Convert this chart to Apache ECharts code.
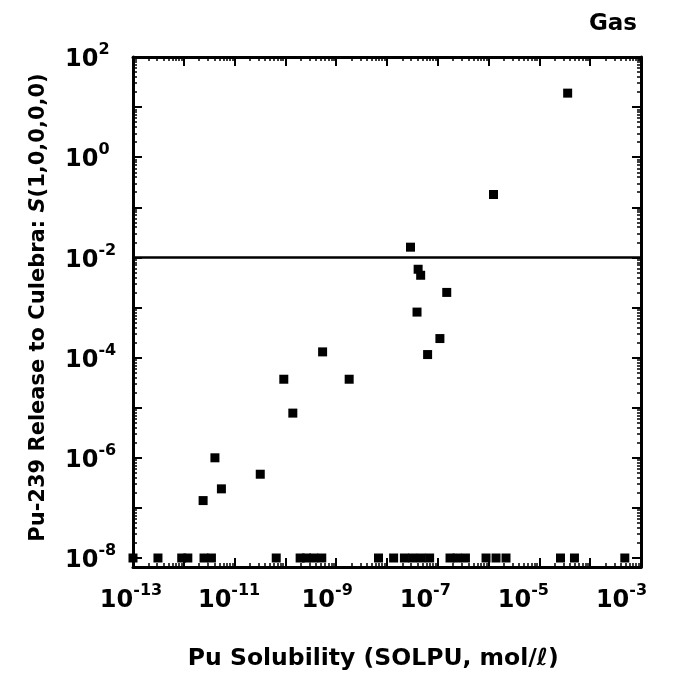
<!DOCTYPE html>
<html><head><meta charset="utf-8">
<script src="https://cdn.jsdelivr.net/npm/echarts@6/dist/echarts.min.js"></script>
<style>html,body{margin:0;padding:0;background:#fff}#c{width:674px;height:681px}</style>
</head><body><div id="c"></div><script>
// ---- data ----
const xLabelExponents = [-13, -11, -9, -7, -5, -3];
const yLabelExponents = [-8, -6, -4, -2, 0, 2];
const xMin = 1e-13, xMax = 1e-3;
const yMin = 1e-8, yMax = 1e2;
const thresholdRelease = 1e-2;
// nonzero releases
const solubility = [3.6e-5, 1.25e-6, 2.9e-8, 4.1e-8, 4.6e-8, 1.5e-7, 3.9e-8, 1.1e-7, 6.3e-8,
  5.4e-10, 1.8e-9, 9.3e-11, 1.4e-10, 4.1e-12, 3.2e-11, 5.5e-12, 2.4e-12];
const release = [19, 0.18, 0.016, 0.0058, 0.0044, 0.002, 8.1e-4, 2.4e-4, 1.15e-4,
  1.3e-4, 3.7e-5, 3.7e-5, 7.8e-6, 1.0e-6, 4.7e-7, 2.4e-7, 1.4e-7];
// releases at the 1e-8 floor
const floorSolubility = [1.0e-13, 3.1e-13, 9.1e-13, 1.2e-12, 2.5e-12, 3.5e-12, 6.6e-11, 1.95e-10,
  2.6e-10, 3.6e-10, 5.2e-10, 6.8e-9, 1.35e-8, 2.2e-8, 3.2e-8, 4.7e-8, 6.9e-8, 1.74e-7, 2.4e-7,
  3.5e-7, 8.9e-7, 1.4e-6, 2.2e-6, 2.6e-5, 4.9e-5, 4.8e-4];
const floorRelease = 1e-8;

// ---- chart ----
const FONT = 'DejaVu Sans';
const pts = solubility.map((x, i) => [x, release[i]]);
const floorPts = floorSolubility.map(x => [x, floorRelease]);

function decades(lo, hi) { const a = []; for (let e = lo; e <= hi; e++) a.push(Number('1e' + e)); return a; }
function minors(lo, hi) { const a = []; for (let e = lo; e < hi; e++) for (let m = 2; m <= 9; m++) a.push(Number(m + 'e' + e)); return a; }
const xMajor = decades(-13, -3), xMinor = minors(-13, -3);
const yMajor = decades(-8, 2), yMinor = minors(-8, 2);

function expOf(v) { const e = Math.log10(v); const r = Math.round(e); return Math.abs(e - r) < 1e-6 ? r : null; }
function labelFmt(list) {
  return function (v) {
    const e = expOf(v);
    if (e === null || list.indexOf(e) < 0) return '';
    return '{b|10}{s|' + e + '}';
  };
}
const rich = {
  b: { fontFamily: FONT, fontWeight: 'bold', fontSize: 24, color: '#000', verticalAlign: 'bottom', lineHeight: 30 },
  s: { fontFamily: FONT, fontWeight: 'bold', fontSize: 16, color: '#000', verticalAlign: 'top', lineHeight: 30 }
};
const lineSt = { color: '#000', width: 3 };
const off = { show: false };
const majTick = vals => ({ show: true, inside: true, length: 9, customValues: vals, lineStyle: { color: '#000', width: 2 } });
const minTick = vals => ({ show: true, inside: true, length: 4, customValues: vals, lineStyle: { color: '#000', width: 1.5 } });

function xAx(grid, pos, ticks, extra) {
  return Object.assign({ gridIndex: grid, type: 'log', min: xMin, max: xMax, interval: 1, position: pos,
    axisLine: off, axisTick: ticks, splitLine: off, axisLabel: off }, extra || {});
}
function yAx(grid, pos, ticks, extra) {
  return Object.assign({ gridIndex: grid, type: 'log', min: yMin, max: yMax, interval: 1, position: pos,
    axisLine: off, axisTick: ticks, splitLine: off, axisLabel: off }, extra || {});
}

const chart = echarts.init(document.getElementById('c'), null, { renderer: 'canvas' });
chart.setOption({
  animation: false,
  backgroundColor: '#fff',
  title: { text: 'Gas', right: 32, top: 8, textStyle: { fontFamily: FONT, fontWeight: 'bold', fontSize: 23, color: '#000' } },
  grid: [
    { left: 133, right: 33, top: 57, bottom: 123, containLabel: false, outerBoundsMode: 'none' },  // data
    { left: 133, right: 33, top: 57, bottom: 114, containLabel: false, outerBoundsMode: 'none' },  // frame
    { left: 131, right: 52.5, top: 57, bottom: 114, containLabel: false, outerBoundsMode: 'none' } // x tick labels (as printed)
  ],
  xAxis: [
    xAx(0, 'bottom', off, { show: false }),
    xAx(1, 'bottom', majTick(xMajor), { axisLine: { show: true, lineStyle: lineSt } }),
    xAx(1, 'bottom', minTick(xMinor)),
    xAx(1, 'top', majTick(xMajor), { axisLine: { show: true, lineStyle: lineSt } }),
    xAx(1, 'top', minTick(xMinor)),
    xAx(2, 'bottom', off, {
      axisLabel: { formatter: labelFmt(xLabelExponents), customValues: xMajor, margin: 16, rich: rich, hideOverlap: false },
      name: 'Pu Solubility (SOLPU, mol/\u2113)', nameLocation: 'middle', nameGap: 80, nameMoveOverlap: false,
      nameTextStyle: { fontFamily: FONT, fontWeight: 'bold', fontSize: 23.5, color: '#000', padding: [0, 6, 0, 0] } })
  ],
  yAxis: [
    yAx(0, 'left', majTick(yMajor), {
      axisLabel: { formatter: labelFmt(yLabelExponents), customValues: yMajor, margin: 68, align: 'left', rich: rich, hideOverlap: false },
      name: '{n|Pu-239 Release to Culebra: }{i|S}{n|(1,0,0,0,0)}', nameLocation: 'middle', nameGap: 84, nameMoveOverlap: false,
      nameTextStyle: { rich: {
        n: { fontFamily: FONT, fontWeight: 'bold', fontSize: 21, color: '#000' },
        i: { fontFamily: FONT, fontWeight: 'bold', fontStyle: 'italic', fontSize: 21, color: '#000' } } } }),
    yAx(0, 'left', minTick(yMinor)),
    yAx(0, 'right', majTick(yMajor)),
    yAx(0, 'right', minTick(yMinor)),
    { gridIndex: 1, type: 'value', min: 0, max: 1, position: 'left',
      axisLine: { show: true, lineStyle: lineSt }, axisTick: off, splitLine: off, axisLabel: off },
    { gridIndex: 1, type: 'value', min: 0, max: 1, position: 'right',
      axisLine: { show: true, lineStyle: lineSt }, axisTick: off, splitLine: off, axisLabel: off },
    { gridIndex: 2, type: 'value', min: 0, max: 1, show: false }
  ],
  series: [
    { type: 'scatter', xAxisIndex: 0, yAxisIndex: 0, data: pts, symbol: 'rect', symbolSize: 9,
      itemStyle: { color: '#000', opacity: 1 },
      markLine: { silent: true, symbol: ['none', 'none'], label: { show: false },
        lineStyle: { color: '#000', width: 2.5, type: 'solid', opacity: 1 }, data: [{ yAxis: thresholdRelease }] } },
    { type: 'scatter', xAxisIndex: 0, yAxisIndex: 0, data: floorPts, symbol: 'rect', symbolSize: 9,
      itemStyle: { color: '#000', opacity: 1 } }
  ]
});
</script></body></html>
